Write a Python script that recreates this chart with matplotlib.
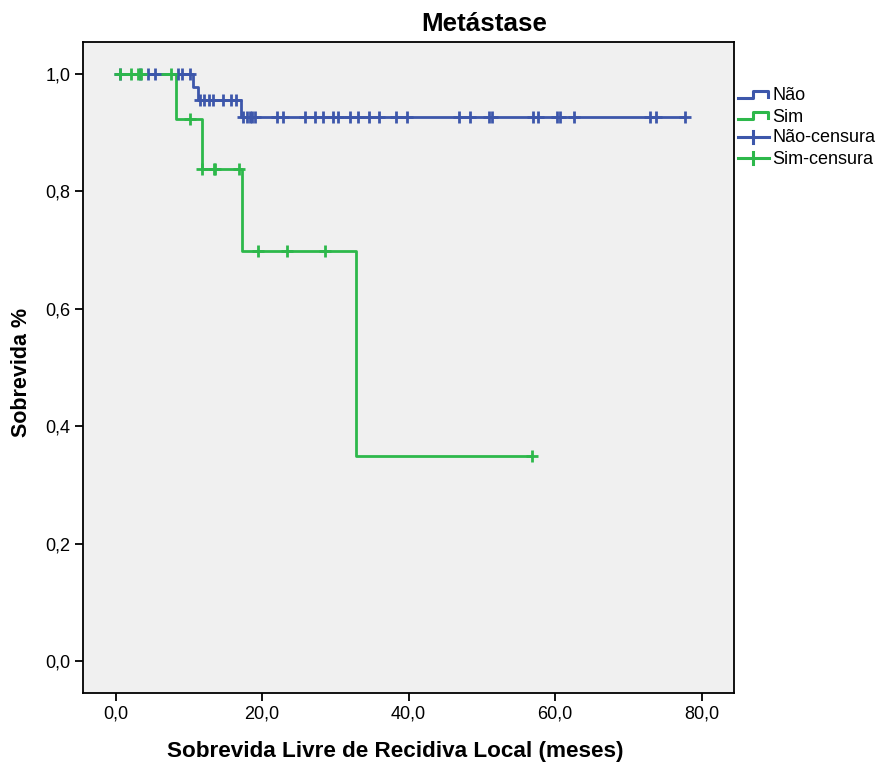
import numpy as np
import matplotlib
matplotlib.use("Agg")
from matplotlib import pyplot as plt
from matplotlib.lines import Line2D

plt.rcParams['font.family'] = ['Liberation Sans', 'DejaVu Sans']

# Kaplan-Meier steps (time of drop, survival after drop)
nao_times = [0.0, 10.6, 11.3, 17.1]
nao_surv = [1.0, 0.978, 0.955, 0.927]
nao_end = 77.7
nao_cens = [0.6, 3.3, 4.4, 5.4, 8.5, 9.1, 10.2,
            11.5, 12.1, 12.7, 13.3, 14.6, 15.8, 16.5,
            17.4, 17.9, 18.3, 18.6, 19.0, 22.0, 22.8, 25.9, 27.2, 28.3,
            29.7, 30.3, 32.0, 33.1, 34.6, 36.0, 38.3, 39.8, 46.9, 48.4,
            50.9, 51.4, 57.0, 57.7, 60.2, 60.6, 62.6, 72.9, 73.8, 77.7]

sim_times = [0.0, 8.3, 11.8, 17.2, 32.8]
sim_surv = [1.0, 0.923, 0.839, 0.699, 0.350]
sim_end = 56.9
sim_cens = [0.6, 2.1, 3.0, 3.5, 7.6, 10.1, 11.8, 13.4, 13.6, 16.8,
            19.4, 23.4, 28.6, 56.9]

xticks = [0, 20, 40, 60, 80]
yticks = [0.0, 0.2, 0.4, 0.6, 0.8, 1.0]

blue = '#3D57AB'
green = '#2DB84B'


def surv_at(t, times, surv):
    """survival value at time t (right-continuous step)"""
    idx = np.searchsorted(times, t, side='right') - 1
    return surv[idx]


W, H = 877, 767
fig = plt.figure(figsize=(W / 100, H / 100), dpi=100)
ax = fig.add_axes([83 / W, 1 - 693 / H, (734 - 83) / W, (693 - 42) / H])
ax.set_facecolor('#F0F0F0')

for times, surv, end, cens, col in [(nao_times, nao_surv, nao_end, nao_cens, blue),
                                    (sim_times, sim_surv, sim_end, sim_cens, green)]:
    xs = list(times) + [end]
    ys = list(surv) + [surv[-1]]
    ax.step(xs, ys, where='post', color=col, lw=2.0, zorder=3)
    cy = [surv_at(t, times, surv) for t in cens]
    ax.plot(cens, cy, ls='none', marker='+', ms=9, mew=2.0, color=col, zorder=4)

ax.set_xlim(-4.44, 84.4)
ax.set_ylim(-0.0545, 1.0545)
ax.set_xticks(xticks)
ax.set_yticks(yticks)
ax.set_xticklabels([f"{v:.1f}".replace('.', ',') for v in xticks], fontsize=13)
ax.set_yticklabels([f"{v:.1f}".replace('.', ',') for v in yticks], fontsize=13)
ax.tick_params(direction='out', length=6, width=1.3, pad=3)
for s in ax.spines.values():
    s.set_linewidth(1.3)

fig.text(484 / W, 1 - 24 / H, 'Metástase', ha='center', va='center',
         fontsize=18.7, fontweight='bold')
fig.text(395 / W, 1 - 752 / H, 'Sobrevida Livre de Recidiva Local (meses)',
         ha='center', va='center', fontsize=16.2, fontweight='bold')
fig.text(22 / W, 1 - 372 / H, 'Sobrevida %', ha='center', va='center',
         rotation=90, fontsize=15.5, fontweight='bold')


# legend drawn by hand outside the plot
def fx(px):
    return px / W


def fy(py):
    return 1 - py / H


legend_items = [('Não', blue, 'step', 95), ('Sim', green, 'step', 116),
                ('Não-censura', blue, 'cross', 137), ('Sim-censura', green, 'cross', 158)]
for label, col, kind, yc in legend_items:
    if kind == 'step':
        lx = [738, 753, 753, 768, 768]
        ly = [yc + 3, yc + 3, yc - 4, yc - 4, yc + 2]
        fig.add_artist(Line2D([fx(v) for v in lx], [fy(v) for v in ly],
                              color=col, lw=2.2))
    else:
        fig.add_artist(Line2D([fx(738), fx(769)], [fy(yc), fy(yc)], color=col, lw=2.2))
        fig.add_artist(Line2D([fx(753), fx(753)], [fy(yc - 6), fy(yc + 6)], color=col, lw=2.2))
    fig.text(fx(772), fy(yc + 1), label, ha='left', va='center', fontsize=13)

fig.savefig('out.png', dpi=100, facecolor='white')
